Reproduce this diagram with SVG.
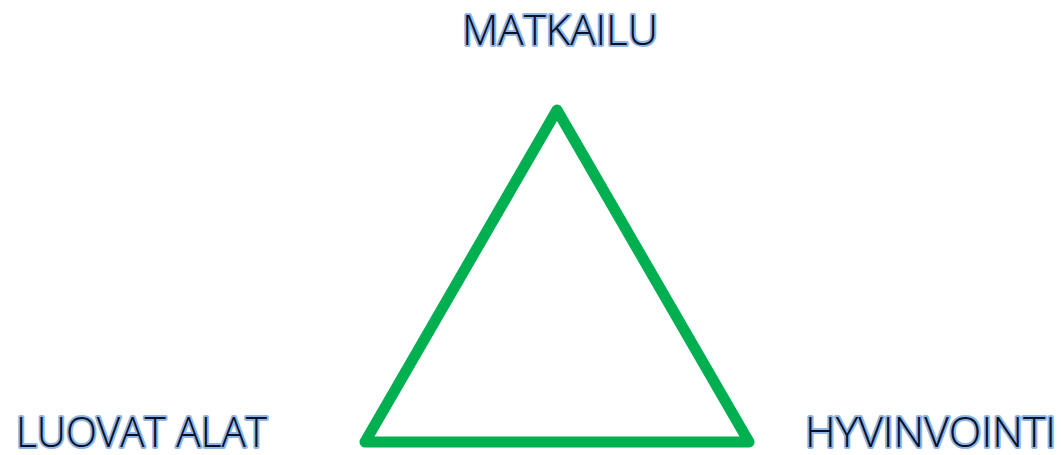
<svg xmlns="http://www.w3.org/2000/svg" width="1061" height="455" viewBox="0 0 1061 455">
<style>
.lbl{font-family:"Open Sans","Liberation Sans",sans-serif;font-size:42px;font-weight:300;fill:#0a1028;stroke:#8fb5e4;stroke-width:4px;paint-order:stroke;stroke-linejoin:round}
.edge{fill:none;stroke:#00b050;stroke-width:11;stroke-linejoin:round;stroke-linecap:round}
</style>
<rect width="1061" height="455" fill="#ffffff"/>
<g id="connectors">
<polygon class="edge" points="557,110 749,442 365,442"/>
</g>
<g id="matkailu"><text class="lbl" x="462" y="45" textLength="196" lengthAdjust="spacingAndGlyphs">MATKAILU</text></g>
<g id="luovat-alat"><text class="lbl" x="16" y="447" textLength="251" lengthAdjust="spacingAndGlyphs">LUOVAT ALAT</text></g>
<g id="hyvinvointi"><text class="lbl" x="805" y="447" textLength="251" lengthAdjust="spacingAndGlyphs">HYVINVOINTI</text></g>
</svg>
